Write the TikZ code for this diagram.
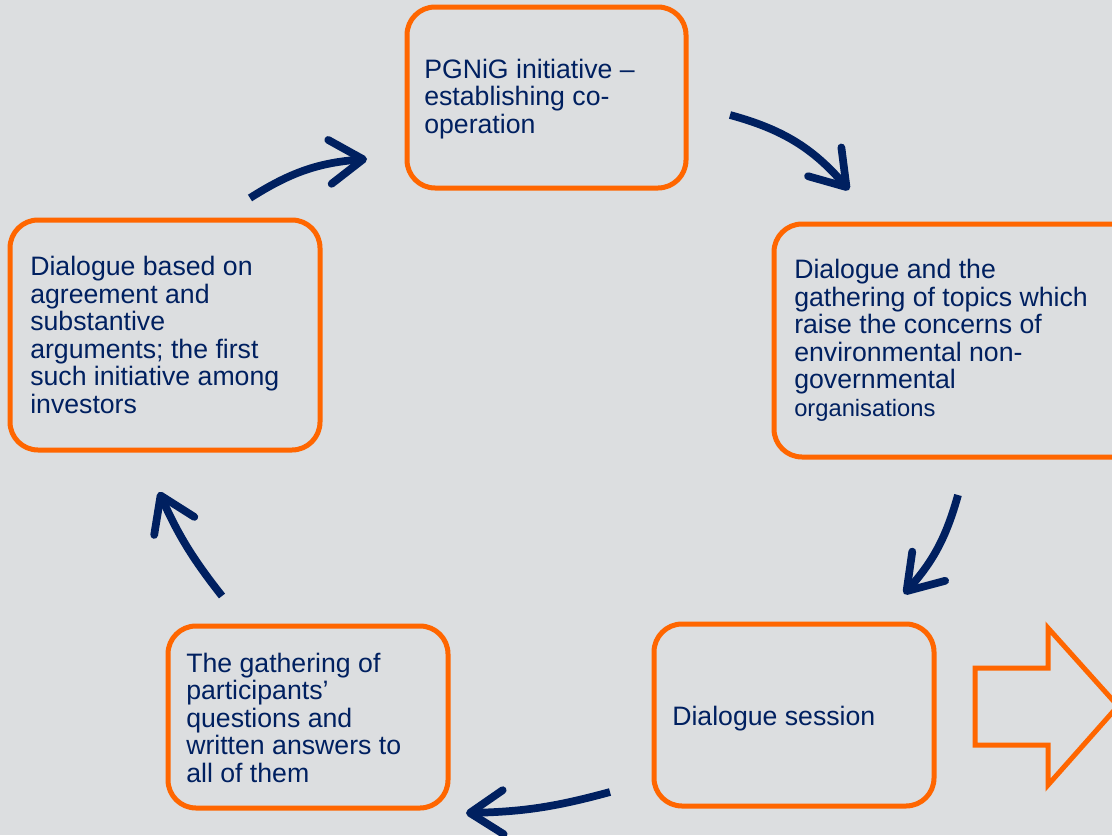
\documentclass[tikz,border=0pt]{standalone}
\usepackage{fontspec}
\setmainfont{Liberation Sans}
\usetikzlibrary{arrows.meta}

\definecolor{bggray}{RGB}{220,222,224}
\definecolor{pgorange}{RGB}{255,102,0}
\definecolor{pgnavy}{RGB}{0,32,96}

\tikzset{
    stage/.style={draw=pgorange, line width=3.75pt, rounded corners=21pt, inner sep=0pt},
    stagetext/.style={anchor=base west, inner sep=0pt, align=left, text=pgnavy,
        font=\fontsize{20}{20.6}\selectfont},
    cyclearrow/.style={draw=pgnavy, line width=5.8pt,
        -{Straight Barb[length=25pt,width=33pt,round]}},
}

\begin{document}
\begin{tikzpicture}[x=0.75pt,y=-0.75pt]
        \fill[bggray] (0,0) rectangle (1112,835);
        \useasboundingbox (0,0) rectangle (1112,835);

        % boxes
        \node[stage, minimum width=209.25pt, minimum height=135.75pt] (init) at (546.5,97.5) {};
        \node[stage, minimum width=274.5pt, minimum height=174.75pt] (topics) at (957,340.5) {};
        \node[stage, minimum width=210pt, minimum height=136.5pt] (session) at (794,715) {};
        \node[stage, minimum width=210pt, minimum height=136.5pt] (answers) at (308,717) {};
        \node[stage, minimum width=232.5pt, minimum height=172.5pt] (based) at (165,335) {};

        % texts (placed by the baseline of their last line)
        \node[stagetext] (inittext) at (424,133) {PGNiG initiative --\\establishing co-\\operation};
        \node[stagetext] (topicstext) at (794,416) {Dialogue and the\\gathering of topics which\\raise the concerns of\\environmental non-\\governmental\\{\fontsize{17.8}{20.6}\selectfont organisations}};
        \node[stagetext] (sessiontext) at (672,725) {Dialogue session};
        \node[stagetext] (answerstext) at (186,782) {The gathering of\\participants’\\questions and\\written answers to\\all of them};
        \node[stagetext] (basedtext) at (30,413) {Dialogue based on\\agreement and\\substantive\\arguments; the first\\such initiative among\\investors};

        % arrow ends
        \coordinate (a1) at (250,198); \coordinate (b1) at (367,159);
        \coordinate (a2) at (730,115); \coordinate (b2) at (849,190);
        \coordinate (a3) at (958,495); \coordinate (b3) at (904,594);
        \coordinate (a4) at (610,792); \coordinate (b4) at (466,813);
        \coordinate (a5) at (222,596); \coordinate (b5) at (159,492);

        \draw[cyclearrow] (a1) to[bend left=14] (b1);
        \draw[cyclearrow] (a2) to[bend left=17] (b2);
        \draw[cyclearrow] (a3) to[bend left=13] (b3);
        \draw[cyclearrow] (a4) to[bend left=7] (b4);
        \draw[cyclearrow] (a5) to[bend left=7] (b5);

        % block arrow
        \draw[pgorange, line width=3.75pt] (975,668) -- (1048,668) -- (1048,628) -- (1118,706)
            -- (1048,785) -- (1048,745) -- (975,745) -- cycle;
\end{tikzpicture}
\end{document}
